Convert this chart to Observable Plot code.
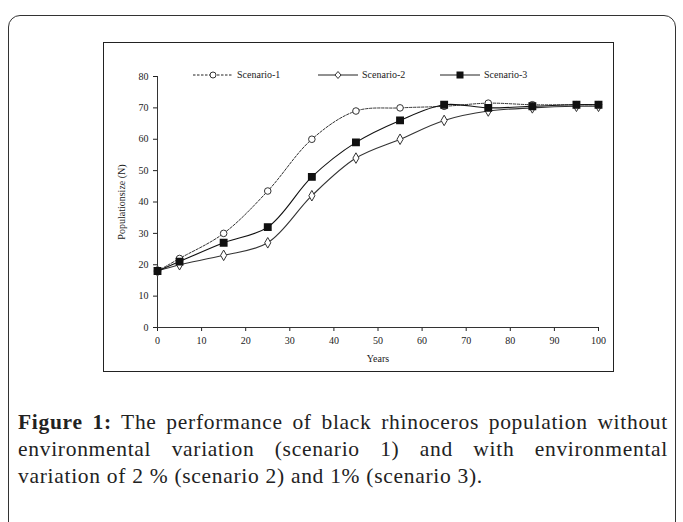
<!DOCTYPE html>
<html><head><meta charset="utf-8">
<script src="https://cdn.jsdelivr.net/npm/d3@7"></script>
<script src="https://cdn.jsdelivr.net/npm/@observablehq/plot@0.6"></script>
<style>
body{margin:0;background:#fff;width:683px;height:522px;overflow:hidden;position:relative;font-family:"Liberation Serif","DejaVu Serif",serif;}
#outer{position:absolute;left:8px;top:15px;width:666px;height:540px;border:1.3px solid #333;border-radius:12px;}
#inner{position:absolute;left:103px;top:42px;width:509px;height:328px;border:1px solid #222;}
#chart{position:absolute;left:110px;top:50px;}
#legend{position:absolute;top:69px;left:0;font-size:10px;font-family:"Liberation Serif",serif;color:#222;}
.item{position:absolute;white-space:nowrap;display:flex;align-items:center;}
#caption{position:absolute;left:18px;top:409px;width:650px;font-size:21.5px;line-height:27px;color:#222;letter-spacing:0.7px;}
#caption .j{text-align:justify;text-align-last:justify;white-space:nowrap;}
</style></head>
<body>
<div id="outer"></div>
<div id="inner"></div>
<div id="chart"></div>
<div id="legend"></div>
<div id="caption">
<div class="j"><b>Figure 1:</b> The performance of black rhinoceros population without</div>
<div class="j">environmental variation (scenario 1) and with environmental</div>
<div>variation of 2 % (scenario 2) and 1% (scenario 3).</div>
</div>
<script>
const years = [0, 5, 15, 25, 35, 45, 55, 65, 75, 85, 95, 100];
const scenario1 = [18, 22, 30, 43.5, 60, 69, 70, 70.5, 71.5, 71, 71, 71];
const scenario2 = [18, 20, 23, 27, 42, 54, 60, 66, 69, 70, 70.5, 70.5];
const scenario3 = [18, 21, 27, 32, 48, 59, 66, 71, 70, 70.5, 71, 71];
const seriesNames = ["Scenario-1", "Scenario-2", "Scenario-3"];
const xTicks = [0,10,20,30,40,50,60,70,80,90,100];
const yTicks = [0,10,20,30,40,50,60,70,80];

const toRows = (vals) => years.map((y, i) => ({year: y, value: vals[i]}));
const s1 = toRows(scenario1), s2 = toRows(scenario2), s3 = toRows(scenario3);

const chart = Plot.plot({
  width: 502, height: 320,
  marginLeft: 47, marginRight: 14, marginTop: 26, marginBottom: 43,
  style: {fontFamily: "Liberation Serif, serif", fontSize: "10px", color: "#222", background: "transparent"},
  x: {domain: [0, 100], ticks: xTicks, label: "Years", labelAnchor: "center", labelArrow: "none", labelOffset: 34, tickSize: 4},
  y: {domain: [0, 80], ticks: yTicks, label: "Populationsize (N)", labelAnchor: "center", labelArrow: "none", labelOffset: 40, tickSize: 4},
  marks: [
    Plot.ruleX([0], {stroke: "#333"}),
    Plot.ruleY([0], {stroke: "#333"}),
    Plot.line(s1, {x: "year", y: "value", curve: "catmull-rom", stroke: "#333", strokeWidth: 1, strokeDasharray: "2.5,1.5"}),
    Plot.line(s2, {x: "year", y: "value", curve: "catmull-rom", stroke: "#333", strokeWidth: 1.1}),
    Plot.line(s3, {x: "year", y: "value", curve: "catmull-rom", stroke: "#111", strokeWidth: 1.1}),
    Plot.dot(s1, {x: "year", y: "value", symbol: "circle", r: 3.3, fill: "white", stroke: "#333", strokeWidth: 1}),
    Plot.dot(s2, {x: "year", y: "value", symbol: "diamond", r: 3.2, fill: "white", stroke: "#333", strokeWidth: 1}),
    Plot.dot(s3, {x: "year", y: "value", symbol: "square", r: 3.6, fill: "#111", stroke: "#111"})
  ]
});
document.getElementById("chart").appendChild(chart);

// legend
const legend = document.getElementById("legend");
const legendDefs = [
  {name: seriesNames[0], left: 193, dash: "2.5,1.5", marker: '<circle cx="20" cy="5" r="3" fill="white" stroke="#333"/>'},
  {name: seriesNames[1], left: 318, dash: "", marker: '<path d="M20,1.5 L23,5 L20,8.5 L17,5Z" fill="white" stroke="#333"/>'},
  {name: seriesNames[2], left: 440, dash: "", marker: '<rect x="16.5" y="1.5" width="7" height="7" fill="#111"/>'}
];
legendDefs.forEach(d => {
  const div = document.createElement("div");
  div.className = "item";
  div.style.left = d.left + "px";
  div.innerHTML = `<svg width="40" height="10"><line x1="0" y1="5" x2="40" y2="5" stroke="#222" stroke-width="1" ${d.dash ? `stroke-dasharray="${d.dash}"` : ""}/>${d.marker}</svg><span style="margin-left:4px">${d.name}</span>`;
  legend.appendChild(div);
});
</script>
</body></html>
